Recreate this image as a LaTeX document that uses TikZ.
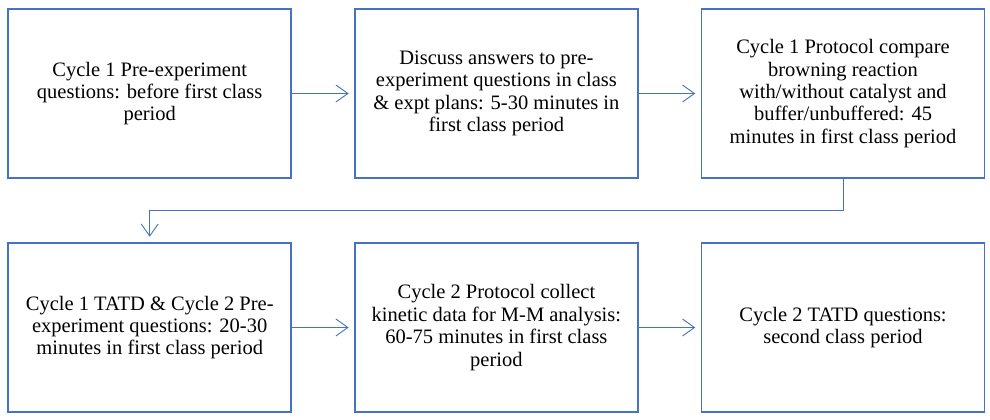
\documentclass[tikz,border=0pt]{standalone}
\usepackage{fontspec}
\setmainfont{Liberation Serif}
\usetikzlibrary{arrows.meta}
\definecolor{boxblue}{HTML}{4472C4}
\tikzset{
  stepbox/.style={draw=boxblue, line width=1.5pt, fill=white, minimum width=283pt, minimum height=169pt,
    inner sep=0pt, align=center, font=\fontsize{20.5}{22.4}\selectfont, text=black},
  flow/.style={draw=boxblue, line width=0.9pt, shorten >=5.5pt,
    -{Straight Barb[length=12pt,width=17pt,line width=0.9pt]}}
}
\begin{document}
\begin{tikzpicture}[x=1pt,y=-1pt]
\useasboundingbox[fill=white] (0,0) rectangle (990,420);
\node[stepbox] (b1) at (149.7,93.5) {Cycle 1 Pre-experiment\\questions: before first class\\period};
\node[stepbox] (b2) at (496.4,93.5) {Discuss answers to pre-\\experiment questions in class\\\& expt plans: 5-30 minutes in\\first class period};
\node[stepbox] (b3) at (843,93.5) {Cycle 1 Protocol compare\\browning reaction\\with/without catalyst and\\buffer/unbuffered: 45\\minutes in first class period};
\node[stepbox] (b4) at (149.7,327.5) {Cycle 1 TATD \& Cycle 2 Pre-\\experiment questions: 20-30\\minutes in first class period};
\node[stepbox] (b5) at (496.4,327.5) {Cycle 2 Protocol collect\\kinetic data for M-M analysis:\\60-75 minutes in first class\\period};
\node[stepbox] (b6) at (843,327.5) {Cycle 2 TATD questions:\\second class period};
\coordinate (turn) at (843,210);
\draw[flow] (b1) -- (b2);
\draw[flow] (b2) -- (b3);
\draw[flow] (b3.south) -- (turn) -| (b4.north);
\draw[flow] (b4) -- (b5);
\draw[flow] (b5) -- (b6);
\end{tikzpicture}
\end{document}
